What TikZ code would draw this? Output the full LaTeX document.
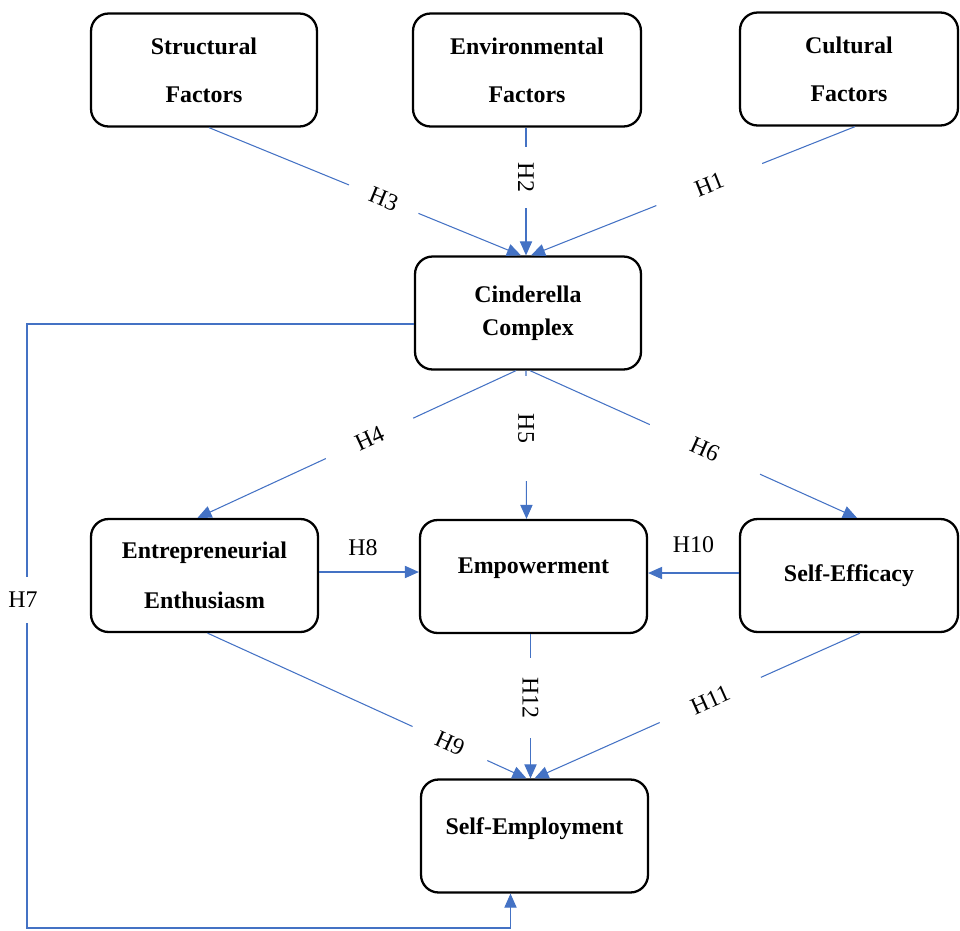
\documentclass[tikz,border=0pt]{standalone}
\usepackage{fontspec}
\setmainfont{Liberation Serif}
\usetikzlibrary{arrows.meta, calc}
\definecolor{linkcol}{HTML}{4472C4}
\tikzset{
  cbox/.style={rectangle, rounded corners=10pt, draw, line width=1.3pt, minimum width=4.52cm, minimum height=2.26cm, align=center, inner sep=2pt, font=\fontsize{13.6}{16.3}\selectfont\bfseries},
  link/.style={linkcol, line width=0.6pt, -{Triangle[length=8pt, width=7pt]}},
  hlbl/.style={fill=white, text=black, inner ysep=2pt, font=\fontsize{13.6}{16}\selectfont},
}

\begin{document}
\begin{tikzpicture}[x=0.02cm, y=-0.02cm]
  \useasboundingbox (0,0) rectangle (960,930);
  % factors
  \node[cbox] (str) at (204,70) {Structural\\[10.9pt]Factors};
  \node[cbox, minimum width=4.56cm] (env) at (527,70) {Environmental\\[10.9pt]Factors};
  \node[cbox, minimum width=4.36cm] (cul) at (849,69) {Cultural\\[10.9pt]Factors};
  \node[cbox] (cin) at (528,313) {Cinderella\\[2.4pt]Complex};
  % mediators
  \node[cbox, minimum width=4.54cm] (ent) at (204.5,575.5) {Entrepreneurial\\[12pt]Enthusiasm};
  \node[cbox, minimum width=4.54cm, text depth=12.6pt] (emp) at (533.5,576.5) {Empowerment};
  \node[cbox, minimum width=4.36cm] (eff) at (849,575.5) {Self-Efficacy};
  \node[cbox, minimum width=4.54cm, text depth=11pt] (sem) at (534.5,836) {Self-Employment};

  % H1--H3
  \draw[link] ($(str.south)+(5,0)$) -- node[hlbl, sloped, pos=0.56, inner xsep=13pt] {H3} ($(cin.north)+(-7,0)$);
  \draw[link] ($(env.south)+(-1,0)$) -- node[hlbl, rotate=-90, pos=0.39, inner xsep=9pt] {H2} ($(cin.north)+(-2,0)$);
  \draw[link] ($(cul.south)+(6,0)$) -- node[hlbl, sloped, pos=0.45, inner xsep=24pt] {H1} ($(cin.north)+(3,0)$);
  % H4--H6
  \draw[link] ($(cin.south)+(-12,0)$) -- node[hlbl, sloped, pos=0.46, inner xsep=19pt] {H4} ($(ent.north)+(-7,0)$);
  \draw[link] ($(cin.south)+(-2,0)$) -- node[hlbl, rotate=-90, pos=0.39, inner xsep=21.5pt] {H5} ($(emp.north)+(-7,0)$);
  \draw[link] ($(cin.south)+(2,0)$) -- node[hlbl, sloped, pos=0.535, inner xsep=26pt] {H6} ($(eff.north)+(8,0)$);
  % H8, H10
  \draw[link] ($(ent.east)+(0,-3.5)$) -- node[hlbl, fill=none, pos=0.44, above=7pt] {H8} ($(emp.west)+(0,-4.5)$);
  \draw[link] ($(eff.west)+(0,-2.5)$) -- node[hlbl, fill=none, pos=0.5, above=9.4pt] {H10} ($(emp.east)+(0,-3.5)$);
  % H9, H11, H12
  \draw[link] ($(ent.south)+(3,0)$) -- node[hlbl, sloped, pos=0.76, inner xsep=15pt] {H9} ($(sem.north)+(-8,0)$);
  \draw[link] ($(emp.south)+(-3,0)$) -- node[hlbl, rotate=-90, pos=0.44, inner xsep=11pt] {H12} ($(sem.north)+(-4,0)$);
  \draw[link] ($(eff.south)+(11,0)$) -- node[hlbl, sloped, pos=0.46, inner xsep=20pt] {H11} (sem.north);
  % H7 round the left side
  \coordinate (lowleft) at (27,928);
  \draw[link] ($(cin.west)+(0,11)$) -| (lowleft) -| ($(sem.south)+(-24,0)$);
  \node[hlbl, inner ysep=8.8pt] (h7) at (23,600) {H7};
\end{tikzpicture}
\end{document}
